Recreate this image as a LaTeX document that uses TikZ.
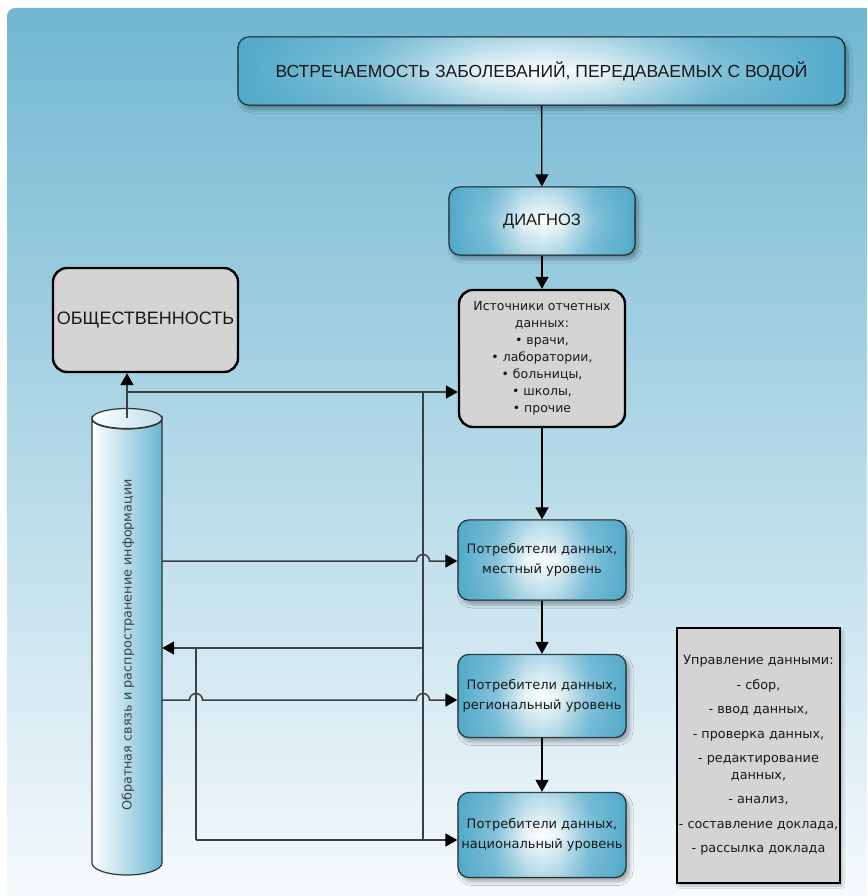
\documentclass[tikz,border=0pt]{standalone}
\usepackage{fontspec}
\setmainfont{Liberation Sans}
\newfontfamily\smallfont{DejaVu Sans}
\usetikzlibrary{arrows.meta,shadows.blur,fadings}

\definecolor{panelTop}{HTML}{70B7D2}
\definecolor{panelMid}{HTML}{B2D8E6}
\definecolor{panelBot}{HTML}{F6FAFC}
\definecolor{boxBlue}{HTML}{52AACA}
\definecolor{boxGray}{HTML}{D4D4D4}
\definecolor{wireGray}{HTML}{3A4043}
\definecolor{cylBlue}{HTML}{6AB7D2}

% glossy fill of the blue boxes: blue ends, white band down the middle
\pgfdeclarehorizontalshading{glow}{100bp}{%
  color(0bp)=(boxBlue); color(25bp)=(boxBlue); color(36bp)=(boxBlue!70!white);
  color(45bp)=(boxBlue!12!white); color(50bp)=(white); color(55bp)=(boxBlue!12!white);
  color(64bp)=(boxBlue!70!white); color(75bp)=(boxBlue); color(100bp)=(boxBlue)}

\tikzset{
  x=1pt, y=-1pt,
  bluebox/.style={draw=black!90, line width=1.3pt, rounded corners=11pt,
    shading=glow, inner sep=0pt, align=center, text=black!90,
    blur shadow={shadow xshift=3pt, shadow yshift=-4pt,
      shadow blur steps=8, shadow blur radius=4pt, shadow opacity=35},
    postaction={fill=boxBlue, path fading=edgeshade, fill opacity=0.55}},
  graybox/.style={draw=black, line width=2.4pt, rounded corners=14pt,
    fill=boxGray, inner sep=0pt, align=center, text=black!90},
  tipped/.style={-{Triangle[length=12pt,width=13pt,color=black]}},
  flow/.style={tipped, line width=1.3pt, draw=black},
  wire/.style={line width=1.5pt, draw=wireGray},
  smalltext/.style={font=\smallfont\fontsize{13}{20}\selectfont},
}

% blue creeping in from the upper and lower borders
\tikzfading[name=edgeshade,
  top color=transparent!20, bottom color=transparent!20,
  middle color=transparent!100]

\begin{document}
\begin{tikzpicture}
\useasboundingbox (0,0) rectangle (867,896);

% background panel
\path[top color=panelTop, middle color=panelMid, bottom color=panelBot]
  (7,896) -- (7,16) arc[start angle=180, end angle=270, radius=8]
  -- (867,8) -- (867,896) -- cycle;

% main chain
\node[bluebox, minimum width=607pt, minimum height=68pt,
  font=\fontsize{17.5}{21}\selectfont] (top) at (541.5,71)
  {ВСТРЕЧАЕМОСТЬ ЗАБОЛЕВАНИЙ, ПЕРЕДАВАЕМЫХ С ВОДОЙ};
\node[bluebox, minimum width=186pt, minimum height=68pt,
  font=\fontsize{16.5}{20}\selectfont] (diag) at (542,221) {ДИАГНОЗ};
\node[graybox, minimum width=166pt, minimum height=137pt,
  font=\smallfont\fontsize{12.5}{17}\selectfont] (src) at (542,358.5)
  {Источники отчетных\\данных:\\• врачи,\\• лаборатории,\\• больницы,\\• школы,\\• прочие};
\node[bluebox, smalltext, minimum width=168pt, minimum height=80pt] (loc) at (542,560)
  {Потребители данных,\\местный уровень};
\node[bluebox, smalltext, minimum width=168pt, minimum height=83pt] (reg) at (542,696)
  {Потребители данных,\\региональный уровень};
\node[bluebox, smalltext, minimum width=168pt, minimum height=85pt] (nat) at (542,835)
  {Потребители данных,\\национальный уровень};

% public
\node[graybox, minimum width=185pt, minimum height=104pt,
  font=\fontsize{18}{22}\selectfont] (pub) at (145.5,320) {ОБЩЕСТВЕННОСТЬ};

% data management list
\node[draw=black, line width=2pt, fill=boxGray, minimum width=163pt,
  minimum height=255pt, inner sep=0pt, align=center, text=black!90,
  font=\smallfont\fontsize{12.8}{16.5}\selectfont,
  blur shadow={shadow xshift=2pt, shadow yshift=-3pt, shadow blur steps=6, shadow opacity=25}]
  (mgmt) at (758.5,755.5)
  {Управление данными:\\[8pt]- сбор,\\[8pt]- ввод данных,\\[8pt]- проверка данных,\\[8pt]- редактирование\\данных,\\[8pt]- анализ,\\[8pt]- составление доклада,\\[8pt]- рассылка доклада};

% feedback cylinder
\node[inner sep=0pt, minimum width=70pt, minimum height=444pt] (cyl) at (127,641) {};
\path[draw=black!80, line width=1.2pt, left color=white, middle color=cylBlue!40!white, right color=cylBlue]
  (92,419) -- (92,863) arc[start angle=180, end angle=0, x radius=35, y radius=12]
  -- (162,419) arc[start angle=0, end angle=180, x radius=35, y radius=10] -- cycle;
\path[draw=black!80, line width=1.2pt, left color=white, right color=cylBlue!45!white]
  (127,418.5) ellipse[x radius=35, y radius=10];
\node[rotate=90, font=\smallfont\fontsize{12.8}{15}\selectfont, text=black!75]
  (cyllabel) at (128,645) {Обратная связь и распространение информации};

% arrows of the main chain
\draw[flow] (top) -- (diag);
\draw[flow] (diag) -- (src);
\draw[flow] (src) -- (loc);
\draw[flow] (loc) -- (reg);
\draw[flow] (reg) -- (nat);

% feedback wiring
\coordinate (ctop) at (127,418);
\coordinate (j1) at (127,392);
\coordinate (vtop) at (423,392);
\coordinate (vbot) at (423,840);
\coordinate (fb) at (423,648);
\coordinate (fbl) at (196,648);
\coordinate (fbb) at (196,840);

\draw[wire, tipped] (ctop) -- (ctop |- pub.south);
\draw[wire, tipped] (j1) -- (j1 -| src.west);
\draw[wire] (vtop) -- (vbot);
\draw[wire, tipped] (fb) -- (fb -| cyl.east);
\draw[wire] (fbl) -- (fbb);
\draw[wire, tipped] (fbb) -- (fbb -| nat.west);

% horizontal feeds hop over the vertical wires
\coordinate (ol) at (162,561);
\draw[wire, tipped] (ol) -- (416.5,561) arc[start angle=180, end angle=360, radius=6.5]
  -- (ol -| loc.west);
\coordinate (or) at (162,700);
\draw[wire, tipped] (or) -- (189.5,700) arc[start angle=180, end angle=360, radius=6.5]
  -- (416.5,700) arc[start angle=180, end angle=360, radius=6.5] -- (or -| reg.west);
\end{tikzpicture}
\end{document}
